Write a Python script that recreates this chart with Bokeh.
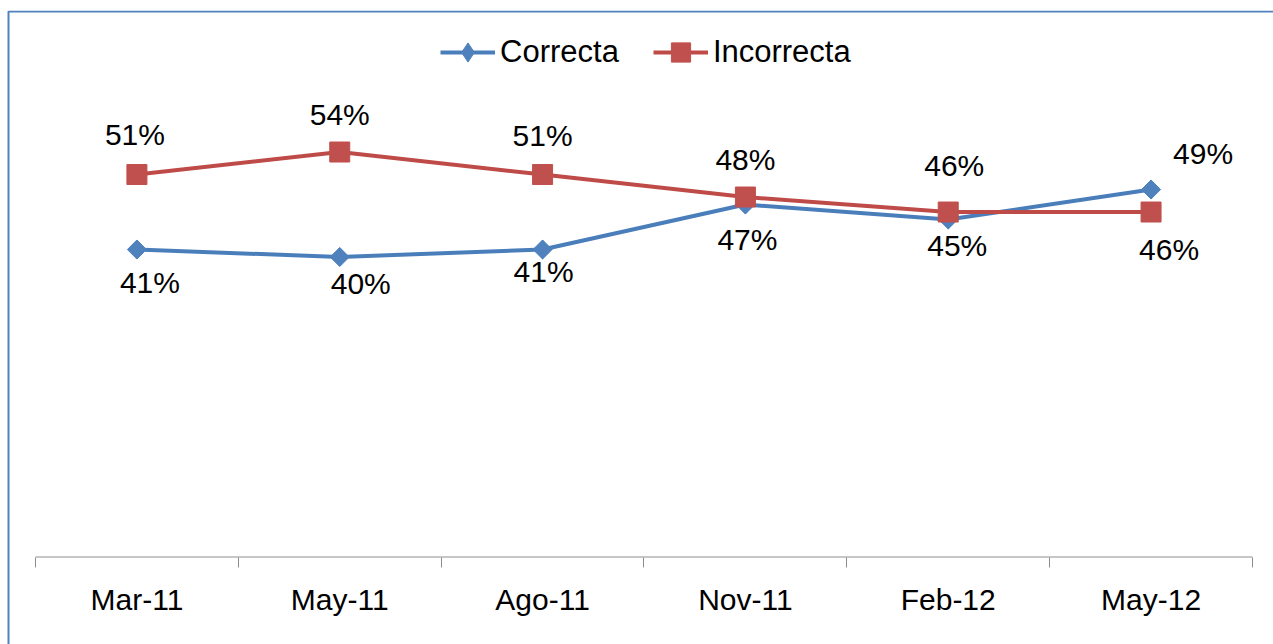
import numpy as np
from bokeh.plotting import figure
from bokeh.models import (Range1d, FixedTicker, BoxAnnotation, Legend, LegendItem,
                          ColumnDataSource)
from bokeh.embed import file_html
from bokeh.resources import INLINE

# ---- data ----
categories = ["Mar-11", "May-11", "Ago-11", "Nov-11", "Feb-12", "May-12"]
correcta = [41, 40, 41, 47, 45, 49]
incorrecta = [51, 54, 51, 48, 46, 46]

# ---- label placement (screen px offsets, style only) ----
cor_dx = [13, 21, 1, 2, 9, 52]
cor_dy = [33, 26, 22, 35, 26, -36]
inc_dx = [-2, 0, 0, 0, 6, 18]
inc_dy = [-40, -38, -39, -38, -47, 37]

BLUE_LINE, BLUE_FILL = "#4A7EBB", "#4F81BD"
RED_LINE, RED_FILL = "#BE4B48", "#C0504D"
FRAME_BLUE = "#4F81BD"
AXIS_GRAY = "#8C8C8C"
FONT = "Liberation Sans"
FS = "30px"

W, H = 1273, 644
n = len(categories)
xs = np.arange(n) + 0.5

x_start, x_end = -0.1726, 6.1037
y_start, y_end = -11.667, 72.87

p = figure(width=W, height=H, output_backend="svg", toolbar_location=None,
           x_range=Range1d(x_start, x_end), y_range=Range1d(y_start, y_end),
           y_axis_location=None, min_border_left=0, min_border_right=0,
           min_border_top=10, min_border_bottom=0)
p.outline_line_color = None
p.grid.visible = False
p.background_fill_color = "white"
p.border_fill_color = "white"

# x axis drawn at y = 0: labels at category centres, ticks at boundaries
ax = p.xaxis[0]
ax.fixed_location = 0
ax.ticker = FixedTicker(ticks=list(xs), minor_ticks=list(range(n + 1)))
ax.major_label_overrides = {float(x): c for x, c in zip(xs, categories)}
ax.axis_line_color = None
ax.major_tick_out = 0
ax.major_tick_in = 0
ax.minor_tick_out = 10
ax.minor_tick_in = 0
ax.minor_tick_line_color = AXIS_GRAY
ax.minor_tick_line_width = 1
ax.major_label_text_font = FONT
ax.major_label_text_font_size = FS
ax.major_label_text_color = "black"
ax.major_label_standoff = 16

# axis base line across the category span
p.segment(x0=[0], y0=[0], x1=[n], y1=[0], line_color=AXIS_GRAY, line_width=1)

# chart border (top & left visible)
p.add_layout(BoxAnnotation(left=8, left_units="canvas", top=11, top_units="canvas",
                           right=W + 20, right_units="canvas",
                           bottom=H + 20, bottom_units="canvas",
                           fill_color=None, fill_alpha=0,
                           line_color=FRAME_BLUE, line_alpha=1.0, line_width=2))

src_c = ColumnDataSource(dict(x=xs, y=correcta, t=[f"{v}%" for v in correcta],
                              dx=cor_dx, dy=cor_dy))
src_i = ColumnDataSource(dict(x=xs, y=incorrecta, t=[f"{v}%" for v in incorrecta],
                              dx=inc_dx, dy=inc_dy))

l_c = p.line("x", "y", source=src_c, line_color=BLUE_LINE, line_width=4)
# diamond used for the legend key, covered in the plot by a rotated square
d_c = p.scatter("x", "y", source=src_c, marker="diamond", size=18,
                fill_color=BLUE_FILL, line_color=BLUE_FILL)
s_c = p.scatter("x", "y", source=src_c, marker="square", angle=np.pi / 4, size=13.5,
                fill_color=BLUE_FILL, line_color=BLUE_FILL)
l_i = p.line("x", "y", source=src_i, line_color=RED_LINE, line_width=4)
s_i = p.scatter("x", "y", source=src_i, marker="square", size=20,
                fill_color=RED_FILL, line_color=RED_FILL)

for src in (src_c, src_i):
    p.text("x", "y", text="t", source=src, x_offset="dx", y_offset="dy",
           text_align="center", text_baseline="middle",
           text_font={"value": FONT}, text_font_size=FS, text_color="black")

legend = Legend(items=[LegendItem(label="Correcta", renderers=[l_c, d_c]),
                       LegendItem(label="Incorrecta", renderers=[l_i, s_i])],
                orientation="horizontal", location=(440, 568),
                glyph_width=55, glyph_height=48, label_standoff=5, spacing=34,
                padding=0, margin=0, border_line_color=None,
                background_fill_alpha=0,
                label_text_font=FONT, label_text_font_size="31px",
                label_text_color="black")
p.add_layout(legend)

open("out.html", "w").write(file_html(p, INLINE))
